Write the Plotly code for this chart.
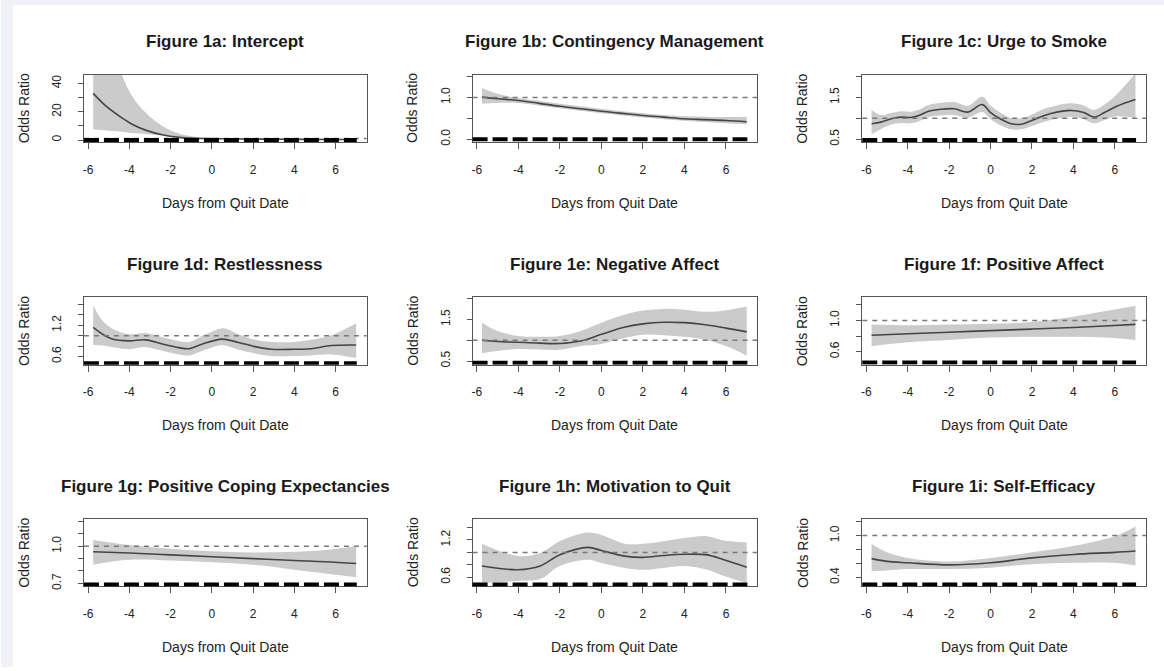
import plotly.graph_objects as go

W, H = 1164, 671

# ---------------- data ----------------
titles = ["Figure 1a: Intercept", "Figure 1b: Contingency Management", "Figure 1c: Urge to Smoke",
          "Figure 1d: Restlessness", "Figure 1e: Negative Affect", "Figure 1f: Positive Affect",
          "Figure 1g: Positive Coping Expectancies", "Figure 1h: Motivation to Quit", "Figure 1i: Self-Efficacy"]
x_label = "Days from Quit Date"
y_label = "Odds Ratio"
x_ticks = [-6, -4, -2, 0, 2, 4, 6]
x_tick_text = ["-6", "-4", "-2", "0", "2", "4", "6"]

x_1a = [-5.75, -5.14, -4.5, -3.86, -3.21, -2.4, -1.6, -0.8, 0, 1, 2, 3, 4, 5, 6, 7]
or_1a = [33, 24.1, 17.1, 11.2, 7.0, 3.7, 1.9, 1.2, 1.0, 0.8, 0.7, 0.6, 0.5, 0.45, 0.4, 0.35]
lo_1a = [7.7, 6.8, 6.0, 5.0, 4.2, 3.0, 1.5, 0.9, 0.7, 0.55, 0.45, 0.4, 0.35, 0.3, 0.25, 0.2]
hi_1a = [150, 95, 52, 31, 19.4, 10, 4.7, 2.3, 1.3, 1.1, 1.0, 0.9, 0.85, 0.8, 0.75, 0.7]

x_1b = [-5.75, -5, -4, -3, -2, -1, 0, 1, 2, 3, 4, 5, 6, 7]
or_1b = [1.01, 0.97, 0.93, 0.86, 0.79, 0.73, 0.67, 0.62, 0.57, 0.53, 0.49, 0.47, 0.45, 0.42]
lo_1b = [0.85, 0.87, 0.87, 0.81, 0.74, 0.68, 0.62, 0.57, 0.52, 0.48, 0.44, 0.41, 0.38, 0.36]
hi_1b = [1.23, 1.09, 0.99, 0.92, 0.85, 0.79, 0.73, 0.67, 0.62, 0.58, 0.55, 0.54, 0.53, 0.54]

x_1c = [-5.75, -5.3, -4.8, -4.3, -3.85, -3.5, -3.0, -2.4, -1.75, -1.1, -0.4, 0, 0.5, 1.0, 1.5, 1.95,
        2.6, 3.2, 3.9, 4.5, 5.0, 5.5, 6.1, 7.0]
or_1c = [0.87, 0.91, 0.99, 1.03, 1.02, 1.06, 1.17, 1.22, 1.23, 1.15, 1.33, 1.14, 0.98, 0.87, 0.86, 0.94,
         1.07, 1.15, 1.19, 1.14, 1.03, 1.14, 1.29, 1.45]
lo_1c = [0.62, 0.74, 0.85, 0.89, 0.88, 0.92, 1.03, 1.07, 1.08, 1.01, 1.15, 0.98, 0.83, 0.74, 0.74, 0.81,
         0.92, 0.99, 1.03, 0.98, 0.88, 0.96, 1.05, 1.01]
hi_1c = [1.20, 1.08, 1.13, 1.17, 1.16, 1.20, 1.32, 1.37, 1.39, 1.30, 1.52, 1.31, 1.13, 1.01, 1.00, 1.08,
         1.23, 1.31, 1.36, 1.31, 1.20, 1.33, 1.58, 2.08]

x_1d = [-5.75, -5.3, -4.8, -4.0, -3.2, -2.4, -1.6, -1.1, -0.45, 0.35, 0.65, 1.3, 2.1, 2.9, 4.0, 4.8, 5.8, 7.0]
or_1d = [1.16, 1.03, 0.93, 0.90, 0.92, 0.84, 0.77, 0.75, 0.84, 0.93, 0.93, 0.87, 0.79, 0.74, 0.74, 0.75, 0.81, 0.82]
lo_1d = [0.82, 0.81, 0.78, 0.74, 0.78, 0.71, 0.64, 0.62, 0.71, 0.81, 0.81, 0.73, 0.66, 0.61, 0.61, 0.62, 0.64, 0.57]
hi_1d = [1.58, 1.29, 1.13, 1.03, 1.05, 0.97, 0.90, 0.88, 1.00, 1.13, 1.14, 1.03, 0.92, 0.88, 0.88, 0.92, 1.01, 1.24]

x_1e = [-5.75, -5, -4, -3, -2, -1, 0, 1.1, 2, 3, 4, 5, 6, 7]
or_1e = [1.00, 0.97, 0.95, 0.93, 0.92, 0.98, 1.14, 1.31, 1.39, 1.43, 1.42, 1.37, 1.29, 1.20]
lo_1e = [0.69, 0.74, 0.79, 0.78, 0.77, 0.86, 0.91, 1.05, 1.13, 1.12, 1.08, 1.01, 0.86, 0.63]
hi_1e = [1.42, 1.22, 1.10, 1.08, 1.10, 1.22, 1.42, 1.61, 1.71, 1.75, 1.73, 1.68, 1.72, 1.81]

x_1f = [-5.75, -4, -2, 0, 2, 4, 5.5, 7]
or_1f = [0.81, 0.83, 0.85, 0.87, 0.89, 0.91, 0.93, 0.95]
lo_1f = [0.67, 0.72, 0.75, 0.78, 0.79, 0.79, 0.78, 0.75]
hi_1f = [0.95, 0.94, 0.95, 0.96, 0.98, 1.05, 1.12, 1.19]

x_1g = [-5.75, -4, -2, 0, 2, 4, 5.5, 7]
or_1g = [0.955, 0.945, 0.93, 0.915, 0.90, 0.885, 0.875, 0.86]
lo_1g = [0.85, 0.89, 0.885, 0.87, 0.85, 0.81, 0.78, 0.75]
hi_1g = [1.05, 1.01, 0.98, 0.96, 0.95, 0.955, 0.97, 1.0]

x_1h = [-5.75, -4, -2.95, -2, -0.64, 0, 1.13, 2, 3, 4, 5.1, 5.9, 7]
or_1h = [0.78, 0.72, 0.78, 0.96, 1.08, 1.03, 0.94, 0.92, 0.95, 0.97, 0.96, 0.88, 0.76]
lo_1h = [0.51, 0.54, 0.57, 0.78, 0.88, 0.83, 0.75, 0.72, 0.75, 0.78, 0.72, 0.62, 0.51]
hi_1h = [1.14, 0.94, 0.99, 1.18, 1.32, 1.28, 1.14, 1.14, 1.18, 1.23, 1.26, 1.19, 1.16]

x_1i = [-5.75, -5, -4, -2, 0, 2, 4, 6, 7]
or_1i = [0.67, 0.63, 0.61, 0.58, 0.61, 0.68, 0.73, 0.76, 0.78]
lo_1i = [0.49, 0.50, 0.52, 0.52, 0.54, 0.59, 0.61, 0.61, 0.57]
hi_1i = [0.88, 0.76, 0.68, 0.63, 0.68, 0.76, 0.85, 0.99, 1.13]

y_ticks = [[0, 10, 20, 30, 40], [0, 0.5, 1.0, 1.5], [0.5, 1.0, 1.5, 2.0],
           [0.6, 0.8, 1.0, 1.2, 1.4, 1.6], [0.5, 1.0, 1.5, 2.0], [0.6, 0.8, 1.0, 1.2],
           [0.7, 0.8, 0.9, 1.0, 1.1, 1.2], [0.6, 0.8, 1.0, 1.2, 1.4], [0.4, 0.6, 0.8, 1.0, 1.2]]
y_tick_text = [["0", "", "20", "", "40"], ["0.0", "", "1.0", ""], ["0.5", "", "1.5", ""],
               ["0.6", "", "", "1.2", "", ""], ["0.5", "", "1.5", ""], ["0.6", "", "1.0", ""],
               ["0.7", "", "", "1.0", "", ""], ["0.6", "", "", "1.2", ""], ["0.4", "", "", "1.0", ""]]
null_or = 1.0
floor_y = [0, 0, 0.48, 0.47, 0.46, 0.46, 0.69, 0.48, 0.30]

# ---------------- layout constants ----------------
y_ranges = [[-1.5, 46.3], [-0.07, 1.55], [0.43, 2.05], [0.44, 1.74], [0.41, 2.03],
            [0.43, 1.30], [0.675, 1.22], [0.45, 1.54], [0.27, 1.24]]
x_range = [-6.2, 7.51]
col_left = [83, 472, 862]
col_right = [366, 757, 1146]
row_top = [75, 299, 522]
row_bottom = [143, 367, 590]

series = [(x_1a, or_1a, lo_1a, hi_1a), (x_1b, or_1b, lo_1b, hi_1b), (x_1c, or_1c, lo_1c, hi_1c),
          (x_1d, or_1d, lo_1d, hi_1d), (x_1e, or_1e, lo_1e, hi_1e), (x_1f, or_1f, lo_1f, hi_1f),
          (x_1g, or_1g, lo_1g, hi_1g), (x_1h, or_1h, lo_1h, hi_1h), (x_1i, or_1i, lo_1i, hi_1i)]

FONT = "Liberation Sans, Arial, Helvetica, sans-serif"
BORDER = "#f0f2f7"
fig = go.Figure()
layout = dict(width=W, height=H, margin=dict(l=0, r=0, t=0, b=0), paper_bgcolor="white",
              plot_bgcolor="white", showlegend=False, font=dict(family=FONT, color="#222", size=12))
shapes = [dict(type="rect", xref="paper", yref="paper", x0=0, x1=1, y0=1 - 5 / H, y1=1,
               line=dict(width=0), fillcolor=BORDER, layer="below"),
          dict(type="rect", xref="paper", yref="paper", x0=0, x1=12 / W, y0=0, y1=1,
               line=dict(width=0), fillcolor=BORDER, layer="below")]
annotations = []

for k, (xs, ors, los, his) in enumerate(series):
    r, c = divmod(k, 3)
    sx = "" if k == 0 else str(k + 1)
    xref, yref = "x" + sx, "y" + sx
    L, R = col_left[c], col_right[c]
    T, B = row_top[r], row_bottom[r]
    layout["xaxis" + sx] = dict(domain=[L / W, R / W], anchor=yref, range=x_range, tickvals=x_ticks,
                                ticktext=x_tick_text,
                                ticks="outside", ticklen=6, tickcolor="#555", showline=True, mirror=True,
                                linecolor="#555", linewidth=1, showgrid=False, zeroline=False,
                                tickfont=dict(size=12, color="#222"), ticklabelstandoff=10, fixedrange=True)
    layout["yaxis" + sx] = dict(domain=[1 - B / H, 1 - T / H], anchor=xref, range=y_ranges[k],
                                tickvals=y_ticks[k], ticktext=y_tick_text[k], tickangle=-90,
                                ticks="outside", ticklen=5, tickcolor="#555", showline=True, mirror=True,
                                linecolor="#555", linewidth=1, showgrid=False, zeroline=False,
                                tickfont=dict(size=12, color="#222"), ticklabelstandoff=12, fixedrange=True)
    fig.add_trace(go.Scatter(x=xs, y=los, xaxis=xref, yaxis=yref, mode="lines",
                             line=dict(width=0, shape="spline", color="#cbcbcb"), hoverinfo="skip"))
    fig.add_trace(go.Scatter(x=xs, y=his, xaxis=xref, yaxis=yref, mode="lines", fill="tonexty",
                             fillcolor="#cbcbcb", line=dict(width=0, shape="spline", color="#cbcbcb"),
                             hoverinfo="skip"))
    fig.add_trace(go.Scatter(x=xs, y=ors, xaxis=xref, yaxis=yref, mode="lines",
                             line=dict(width=1.6, shape="spline", color="#454545")))
    shapes.append(dict(type="line", xref=xref + " domain", yref=yref, x0=0, x1=1, y0=null_or, y1=null_or,
                       line=dict(color="#7a7a7a", width=1.5, dash="5px,5px")))
    shapes.append(dict(type="line", xref=xref + " domain", yref=yref, x0=0.0, x1=0.965,
                       y0=floor_y[k], y1=floor_y[k], line=dict(color="black", width=4, dash="15px,5px")))
    cx = (L + R) / 2
    annotations.append(dict(text="<b>" + titles[k] + "</b>", xref="paper", yref="paper", x=cx / W,
                            y=1 - (T - 33) / H, xanchor="center", yanchor="middle", showarrow=False,
                            font=dict(size=17, color="#1a1a1a")))
    annotations.append(dict(text=x_label, xref="paper", yref="paper", x=cx / W, y=1 - (B + 61) / H,
                            xanchor="center", yanchor="middle", showarrow=False,
                            font=dict(size=14, color="#222")))
    annotations.append(dict(text=y_label, xref="paper", yref="paper", x=(L - 60) / W, y=1 - ((T + B) / 2) / H,
                            xanchor="center", yanchor="middle", showarrow=False, textangle=-90,
                            font=dict(size=14, color="#222")))

layout["shapes"] = shapes
layout["annotations"] = annotations
fig.update_layout(**layout)
fig.write_html("out.html", config={"displayModeBar": False},
               post_script="document.body.style.margin='0';document.body.style.background='white';")
